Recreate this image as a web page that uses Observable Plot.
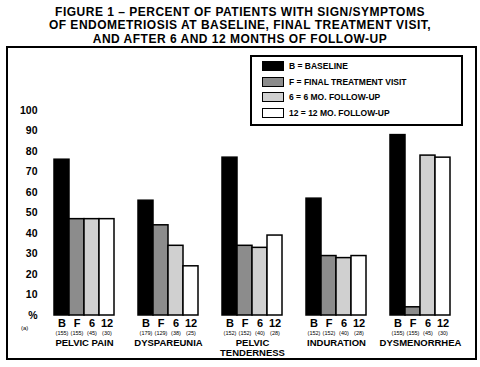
<!DOCTYPE html>
<html>
<head>
<meta charset="utf-8">
<script src="https://cdn.jsdelivr.net/npm/d3@7"></script>
<script src="https://cdn.jsdelivr.net/npm/@observablehq/plot@0.6"></script>
<style>
  body { margin: 0; background: white; }
  #wrap { position: relative; width: 480px; height: 367px; background: white; overflow: hidden;
          font-family: "Liberation Sans", Arial, Helvetica, sans-serif; font-weight: bold; color: black; }
  #title { position: absolute; left: 0; top: 0; width: 480px; text-align: center;
           font-size: 12px; line-height: 13.45px; letter-spacing: 0.5px; padding-top: 5.8px; }
  #chart { position: absolute; left: 0; top: 47px; }
  #frame { position: absolute; left: 6px; top: 46px; width: 471px; height: 314px;
           border: 2px solid black; box-sizing: border-box; pointer-events: none; }
  #legend { position: absolute; left: 250px; top: 55px; width: 213px; height: 71px;
            border: 2px solid black; box-sizing: border-box; background: white;
            padding: 4px 0 0 10px; }
  .row { display: flex; align-items: center; height: 10px; margin-bottom: 5.5px; font-size: 8.5px; }
  .sw { width: 22px; height: 10px; border: 1.5px solid black; box-sizing: border-box; margin-right: 5px; }
  #anote { position: absolute; left: 21px; top: 325px; font-size: 6px; font-weight: normal; }
</style>
</head>
<body>
<div id="wrap">
  <div id="title"></div>
  <div id="chart"></div>
  <div id="frame"></div>
  <div id="legend"></div>
  <div id="anote">(a)</div>
</div>
<script>
const titleLines = [
  "FIGURE 1 – PERCENT OF PATIENTS WITH SIGN/SYMPTOMS",
  "OF ENDOMETRIOSIS AT BASELINE, FINAL TREATMENT VISIT,",
  "AND AFTER 6 AND 12 MONTHS OF FOLLOW-UP"
];
const categories = ["PELVIC PAIN", "DYSPAREUNIA", "PELVIC\nTENDERNESS", "INDURATION", "DYSMENORRHEA"];
const seriesKeys = ["B", "F", "6", "12"];
const seriesLabels = ["B = BASELINE", "F = FINAL TREATMENT VISIT", "6 = 6 MO. FOLLOW-UP", "12 = 12 MO. FOLLOW-UP"];
const seriesColors = ["#000000", "#8c8c8c", "#d0d0d0", "#ffffff"];
const valuesB  = [76, 56, 77, 57, 88];
const valuesF  = [47, 44, 34, 29, 4];
const values6  = [47, 34, 33, 28, 78];
const values12 = [47, 24, 39, 29, 77];
const nB  = [155, 179, 152, 152, 155];
const nF  = [155, 129, 152, 152, 155];
const n6  = [45, 38, 40, 40, 45];
const n12 = [30, 25, 28, 28, 30];
const yTicks = [0, 10, 20, 30, 40, 50, 60, 70, 80, 90, 100];

document.getElementById("title").innerHTML = titleLines.join("<br>");

const legend = document.getElementById("legend");
seriesKeys.forEach((k, i) => {
  const row = document.createElement("div");
  row.className = "row";
  const sw = document.createElement("div");
  sw.className = "sw";
  sw.style.background = seriesColors[i];
  const t = document.createElement("span");
  t.textContent = seriesLabels[i];
  row.appendChild(sw);
  row.appendChild(t);
  legend.appendChild(row);
});

const valueSets = [valuesB, valuesF, values6, values12];
const nSets = [nB, nF, n6, n12];
const rows = [];
categories.forEach((c, i) => {
  seriesKeys.forEach((s, j) => {
    rows.push({cat: c, series: s, value: valueSets[j][i], n: nSets[j][i]});
  });
});

const chart = Plot.plot({
  width: 480,
  height: 320,
  marginTop: 63,
  marginBottom: 52,
  marginLeft: 52,
  marginRight: 27,
  style: {fontFamily: '"Liberation Sans", Arial, sans-serif', fontWeight: "bold", fontSize: "10px", background: "transparent", overflow: "visible"},
  fx: {domain: categories, paddingInner: 0.282, paddingOuter: 0, axis: null, label: null},
  x: {domain: seriesKeys, padding: 0, axis: null},
  y: {domain: [0, 100], axis: null},
  color: {domain: seriesKeys, range: seriesColors},
  marks: [
    Plot.axisY({ticks: yTicks, tickSize: 0, tickPadding: 17, fontSize: 10.5, tickFormat: d => d === 0 ? "%" : d, facetAnchor: "left", label: null}),
    Plot.barY(rows, {fx: "cat", x: "series", y: "value", fill: "series", stroke: "black", strokeWidth: 1.5}),
    Plot.text(rows, {fx: "cat", x: "series", text: "series", frameAnchor: "bottom", lineAnchor: "bottom", dy: 11, fontSize: 11}),
    Plot.text(rows, {fx: "cat", x: "series", text: d => `(${d.n})`, frameAnchor: "bottom", lineAnchor: "bottom", dy: 19, fontSize: 5.5, fontWeight: "normal"}),
    Plot.text(categories, {fx: d => d, text: d => d, frameAnchor: "bottom", lineAnchor: "top", dy: 23.3, fontSize: 9.5, lineHeight: 1.06})
  ]
});
document.getElementById("chart").appendChild(chart);
</script>
</body>
</html>
